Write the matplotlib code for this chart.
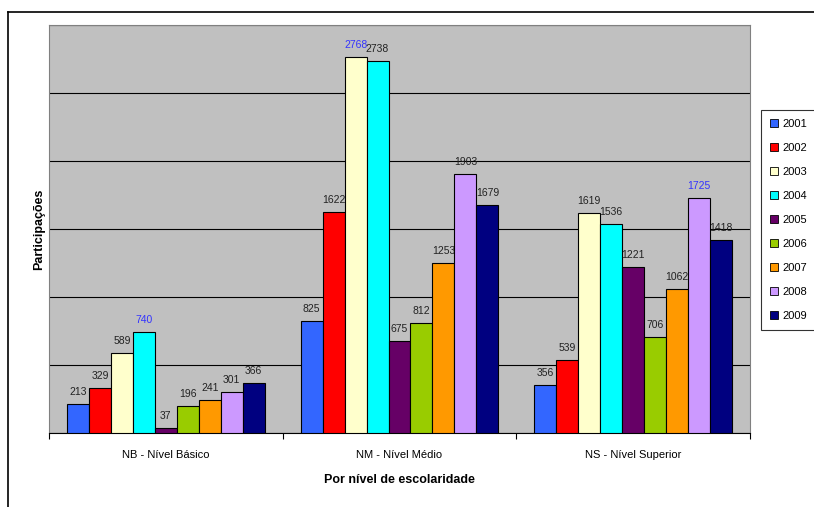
import matplotlib.pyplot as plt
from matplotlib.lines import Line2D
from matplotlib.patches import Patch
import numpy as np

plt.rcParams['font.family'] = ['Liberation Sans', 'DejaVu Sans']

categories = ["NB - Nível Básico", "NM - Nível Médio", "NS - Nível Superior"]
years = ["2001", "2002", "2003", "2004", "2005", "2006", "2007", "2008", "2009"]
values = [
    [213, 825, 356],
    [329, 1622, 539],
    [589, 2768, 1619],
    [740, 2738, 1536],
    [37, 675, 1221],
    [196, 812, 706],
    [241, 1253, 1062],
    [301, 1903, 1725],
    [366, 1679, 1418],
]
colors = ["#3366FF", "#FF0000", "#FFFFCC", "#00FFFF", "#660066",
          "#99CC00", "#FF9900", "#CC99FF", "#000080"]

W, H = 814, 507
fig = plt.figure(figsize=(W / 100, H / 100), dpi=100)
ax = fig.add_axes([49 / W, 1 - 433 / H, (750 - 49) / W, (433 - 25) / H])
ax.set_facecolor("#C0C0C0")

x = np.arange(len(categories))
bw = 22 / 234
vals = np.array(values)
maxes = vals.max(axis=0)
for i, yr in enumerate(years):
    pos = x - 4 * bw + i * bw
    ax.bar(pos, vals[i], width=bw, color=colors[i], edgecolor="black",
           linewidth=0.8, zorder=3)
    for p, v, m in zip(pos, vals[i], maxes):
        c = "#3333FF" if v == m else "#222222"
        ax.annotate(str(v), (p, v), xytext=(0, 5), textcoords="offset points",
                    ha="center", va="bottom", fontsize=7.5, color=c)

ax.set_xlim(-0.5, 2.5)
ax.set_ylim(0, 3000)
ax.set_yticks(np.arange(0, 3001, 500))
ax.yaxis.grid(True, color="black", linewidth=0.8, zorder=1)
ax.set_axisbelow(True)
ax.tick_params(axis="y", length=0, labelleft=False)
ax.set_xticks([-0.5, 0.5, 1.5, 2.5])
ax.set_xticklabels([])
ax.set_xticks(x, minor=True)
ax.set_xticklabels(categories, minor=True, fontsize=8)
ax.tick_params(axis="x", which="major", length=4, direction="out", width=0.8)
ax.tick_params(axis="x", which="minor", length=0, pad=12)
for s in ["left", "top", "right"]:
    ax.spines[s].set_color("#808080")
ax.spines["bottom"].set_color("black")

ax.set_xlabel("Por nível de escolaridade", fontsize=9, fontweight="bold", labelpad=10)
ax.set_ylabel("Participações", fontsize=9, fontweight="bold", labelpad=3)

handles = [Patch(facecolor=c, edgecolor="black", linewidth=0.6) for c in colors]
leg = fig.legend(handles, years, loc="upper left",
                 bbox_to_anchor=(761 / W, 1 - 110 / H), borderaxespad=0,
                 fontsize=8, frameon=True, fancybox=False, edgecolor="black",
                 handlelength=0.7, handleheight=0.7, handletextpad=0.4,
                 labelspacing=1.26, borderpad=0.8)
leg.get_frame().set_linewidth(0.8)

fig.add_artist(Line2D([8 / W, 1], [1 - 12 / H, 1 - 12 / H], color="black",
                      linewidth=1.2, transform=fig.transFigure))
fig.add_artist(Line2D([8 / W, 8 / W], [0, 1 - 12 / H], color="black",
                      linewidth=1.2, transform=fig.transFigure))

fig.savefig("out.png", dpi=100)
